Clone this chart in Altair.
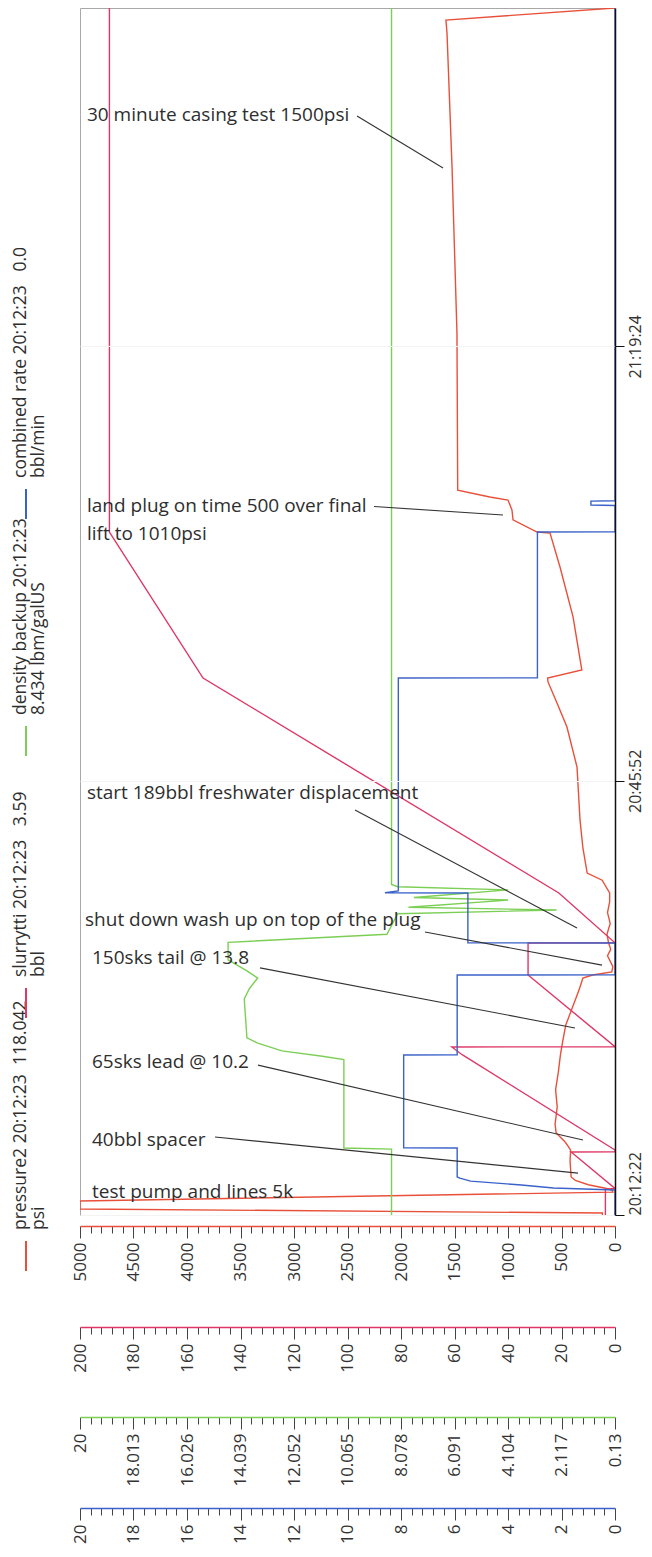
import altair as alt
import pandas as pd

# ---------------- data (time = seconds after 20:12:22) ----------------
T_END = 5588
time_ticks = [0, 2010, 4022]
time_labels = ["20:12:22", "20:45:52", "21:19:24"]

press_t = [0, 9, 28, 65, 106, 116, 125, 140, 160, 176, 250, 300, 320, 340, 380, 420, 500, 580, 660, 741,
           800, 880, 958, 1010, 1051, 1097, 1111, 1125, 1150, 1200, 1230, 1260, 1300, 1350, 1400, 1450, 1491,
           1550, 1583, 1700, 1829, 2074, 2259, 2370, 2468, 2486, 2523, 2769, 3000, 3157, 3162, 3218, 3264,
           3310, 3324, 3356, 4083, 4852, 5472, 5532, 5588]
press_v = [118, 118, 5000, 5000, 20, 30, 100, 250, 370, 410, 420, 415, 440, 470, 550, 560, 540, 555, 530, 510,
           490, 460, 400, 360, 330, 300, 210, 30, 20, 70, 40, 60, 75, 45, 70, 50, 50,
           120, 260, 300, 327, 355, 449, 542, 626, 630, 310, 392, 514, 607, 729, 953, 963,
           1000, 1170, 1470, 1477, 1523, 1570, 1580, 0]

slurry_t = [0, 120, 123, 292, 293, 301, 741, 778, 779, 1111, 1259, 1260, 1491, 2486, 3162, 5588]
slurry_v = [3.59, 3.59, 0, 16.4, 0, 0, 57, 61, 0, 32.5, 32.5, 0, 21, 154, 189, 189]

dens_t = [0, 305, 310, 720, 735, 760, 796, 820, 1000, 1050, 1097, 1130, 1181, 1262, 1300, 1395, 1412,
          1425, 1458, 1470, 1505, 1520, 1530, 5588]
dens_v = [8.43, 8.43, 10.2, 10.2, 11.0, 12.5, 13.4, 13.8, 13.9, 13.7, 13.4, 13.8, 14.5, 14.5, 8.6, 8.2, 2.3,
          7.8, 4.1, 7.6, 4.1, 8.2, 8.43, 8.43]

rate_t = [0, 116, 125, 139, 157, 171, 176, 310, 311, 741, 742, 1111, 1112, 1259, 1260, 1491, 1492, 1500,
          2486, 2487, 3162, 3163, 3285, 3287, 3305, 3307, 5588]
rate_v = [0, 0, 2.3, 3.5, 5.4, 5.8, 5.9, 5.9, 7.9, 7.9, 5.9, 5.9, 0, 0, 5.5, 5.5, 8.6, 8.1,
          8.1, 2.9, 2.9, 0, 0, 0.9, 0.9, 0, 0]

# annotations (time, pressure-scale position)
ann_text = ["30 minute casing test 1500psi", "land plug on time 500 over final", "lift to 1010psi",
            "start 189bbl freshwater displacement", "shut down wash up on top of the plug",
            "150sks tail @ 13.8", "65sks lead @ 10.2", "40bbl spacer", "test pump and lines 5k"]
ann_t = [5093, 3282, 3155, 1954, 1366, 1190, 708, 347, 106]
ann_p = [4935, 4935, 4935, 4935, 4953, 4888, 4888, 4888, 4888]

lead_t1 = [5088, 3280, 1875, 1310, 1144, 694, 361]
lead_p1 = [2411, 2252, 2430, 1776, 3318, 3336, 3738]
lead_t2 = [4847, 3241, 1329, 1157, 866, 347, 194]
lead_p2 = [1607, 1047, 355, 121, 374, 299, 346]

legend_line1 = ["pressure2 20:12:23\u00a0\u00a0118.042", "slurrytti 20:12:23\u00a0\u00a0\u00a03.59",
                "density backup 20:12:23", "combined rate 20:12:23\u00a0\u00a0\u00a00.0"]
legend_line2 = ["psi", "bbl", "8.434 lbm/galUS", "bbl/min"]

C_P, C_S, C_D, C_R = "#e8503a", "#de3766", "#7ccf55", "#3a62c8"
TXT = "#2e2e2e"
FONT = "Open Sans"

W, H = 535, 1207

# ---------------- scales / axes ----------------
y_scale = alt.Scale(domain=[0, T_END], nice=False, zero=False)

texpr = ""
for v, l in zip(time_ticks, time_labels):
    texpr += f"datum.value == {v} ? '{l}' : "
texpr += "''"

# one identical time-axis definition shared by every layer that uses the time scale
y_axis = alt.Axis(orient="right", values=time_ticks, labelExpr=texpr, labelAngle=270,
                  labelAlign={"condition": {"test": "datum.value == 0", "value": "left"}, "value": "center"},
                  labelBaseline="top", tickSize=9, tickColor="#111", domainColor="#111", domainWidth=1.5,
                  labelFontSize=16, labelColor="#333", labelPadding=3, grid=True, gridColor="#f3f3f3",
                  title=None, labelFlush=False, labelOverlap=False, zindex=1)


def bottom_axis(values, major_test, lab_expr, color, offset):
    return alt.Axis(orient="bottom", values=values, offset=offset,
                    tickSize={"condition": {"test": major_test, "value": 12}, "value": 7},
                    labelExpr=f"({major_test}) ? {lab_expr} : ''",
                    labelAngle=270, labelAlign="right", labelBaseline="middle",
                    labelFontSize=17, labelColor="#333", labelPadding=4, labelOverlap=False,
                    domainColor=color, domainWidth=1.5, tickColor="#444", tickWidth=1,
                    grid=False, title=None, labelBound=False, labelFlush=False)


p_vals = list(range(0, 5001, 100))
s_vals = list(range(0, 201, 4))
d_vals = [round(0.13 + k * 0.3974, 4) for k in range(51)]
r_vals = [round(k * 0.4, 2) for k in range(51)]

axes = {
    "p": bottom_axis(p_vals, "datum.value % 500 === 0", "format(datum.value, 'd')", C_P, 11),
    "s": bottom_axis(s_vals, "datum.value % 20 === 0", "format(datum.value, 'd')", C_S, 112),
    "d": bottom_axis(d_vals, "abs((datum.value - 0.13) / 1.987 - round((datum.value - 0.13) / 1.987)) < 0.01",
                     "format(datum.value, '.3~f')", C_D, 202),
    "r": bottom_axis(r_vals, "abs(datum.value / 2 - round(datum.value / 2)) < 0.01",
                     "format(datum.value, 'd')", C_R, 293),
}
domains = {"p": [0, 5000], "s": [0, 200], "d": [0.13, 20], "r": [0, 20]}


def xscale(k):
    return alt.Scale(domain=domains[k], reverse=True, nice=False, zero=False)


def series(t, v, color, key):
    df = pd.DataFrame({"t": t, "v": v, "i": list(range(len(t)))})
    return alt.Chart(df).mark_line(color=color, strokeWidth=1.4, clip=True).encode(
        x=alt.X("v:Q", scale=xscale(key), axis=axes[key]),
        y=alt.Y("t:Q", scale=y_scale, axis=y_axis),
        order=alt.Order("i:Q"),
    )


layers = [
    series(press_t, press_v, C_P, "p"),
    series(slurry_t, slurry_v, C_S, "s"),
    series(dens_t, dens_v, C_D, "d"),
    series(rate_t, rate_v, C_R, "r"),
]

# leader lines
lead_df = pd.DataFrame({"t1": lead_t1, "p1": lead_p1, "t2": lead_t2, "p2": lead_p2})
layers.append(alt.Chart(lead_df).mark_rule(color="#333", strokeWidth=1.1).encode(
    x=alt.X("p1:Q", scale=xscale("p"), axis=None), x2="p2:Q",
    y=alt.Y("t1:Q", scale=y_scale, axis=y_axis), y2="t2:Q"))

ann_df = pd.DataFrame({"txt": ann_text, "t": ann_t, "p": ann_p})
layers.append(alt.Chart(ann_df).mark_text(align="left", baseline="middle", font=FONT, fontSize=19,
                                          color=TXT).encode(
    x=alt.X("p:Q", scale=xscale("p"), axis=None),
    y=alt.Y("t:Q", scale=y_scale, axis=y_axis),
    text="txt:N"))

# custom rotated legend (left strip)
leg_colors = [C_P, C_S, C_D, C_R]
leg_start = [1222, 969, 707, 470]
dummy = pd.DataFrame({"a": [0]})
for c, y0, l1, l2 in zip(leg_colors, leg_start, legend_line1, legend_line2):
    layers.append(alt.Chart(dummy).mark_rule(color=c, strokeWidth=2).encode(
        x=alt.value(-54), y=alt.value(y0 + 11), y2=alt.value(y0 + 41)))
    layers.append(alt.Chart(dummy).mark_text(angle=270, align="left", baseline="middle", font=FONT,
                                             fontSize=17.5, color=TXT).encode(
        x=alt.value(-59), y=alt.value(y0), text=alt.value(l1)))
    layers.append(alt.Chart(dummy).mark_text(angle=270, align="left", baseline="middle", font=FONT,
                                             fontSize=17.5, color=TXT).encode(
        x=alt.value(-41), y=alt.value(y0), text=alt.value(l2)))

chart = alt.layer(*layers).resolve_scale(x="independent").properties(
    width=W, height=H,
    autosize=alt.AutoSizeParams(type="none"),
    padding={"left": 72, "top": 0, "right": 29, "bottom": 334},
).configure(font=FONT).configure_view(stroke="#a8a8a8", strokeWidth=1)

chart.save("out.html", embed_options={"renderer": "svg", "actions": False})
